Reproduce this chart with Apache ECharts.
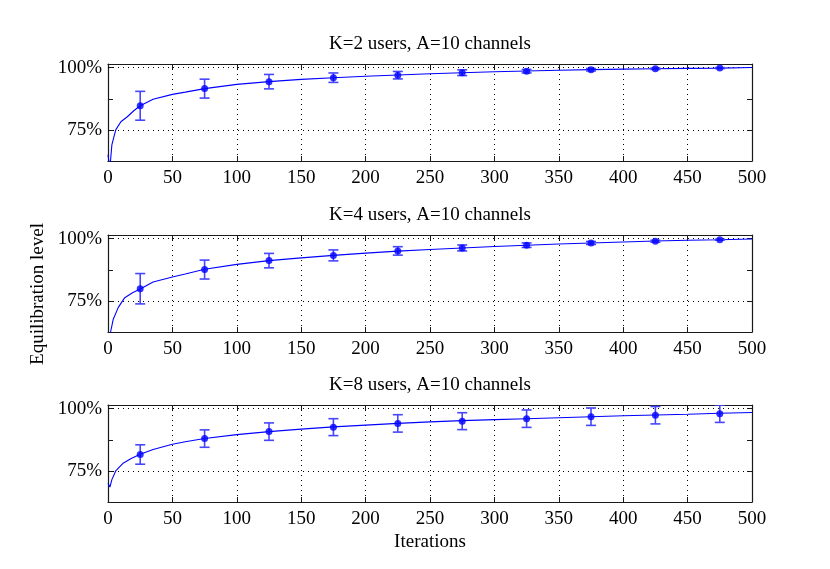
<!DOCTYPE html>
<html>
<head>
<meta charset="utf-8">
<script src="https://cdn.jsdelivr.net/npm/echarts@6/dist/echarts.min.js"></script>
<style>
html,body{margin:0;padding:0;background:#fff;}
#chart{width:830px;height:569px;}
</style>
</head>
<body>
<div id="chart"></div>
<script>
// ---------------- data ----------------
const panelTitles = ['K=2 users, A=10 channels', 'K=4 users, A=10 channels', 'K=8 users, A=10 channels'];
const xTickLabels = ['0','50','100','150','200','250','300','350','400','450','500'];
const yTickLabels = {75: '75%', 100: '100%'};

// continuous curves (iteration, level %)
const curveX_K2 = [0,1,2,3,6,10,15,20,25,35,50,60,75,100,125,150,175,200,225,250,275,300,325,350,375,400,425,450,475,500];
const curveY_K2 = [65,61,62.8,69,75,78.3,80.3,82.7,84.7,87.3,89.3,90.2,91.6,93.3,94.4,95.3,96.0,96.6,97.1,97.6,98.0,98.4,98.7,99.0,99.25,99.45,99.6,99.75,99.85,100.1];
const curveX_K4 = [0,2,4,8,13,19,25,35,50,60,75,100,125,150,175,200,225,250,275,300,325,350,375,400,425,450,475,500];
const curveY_K4 = [58,62.5,67.5,72.4,76.3,78.3,79.8,82.6,84.6,85.8,87.7,89.7,91.2,92.3,93.3,94.2,95.0,95.7,96.3,96.9,97.4,97.9,98.3,98.7,99.1,99.4,99.6,99.9];
const curveX_K8 = [0,1.5,3,6,12,18,25,35,50,60,75,100,125,150,175,200,225,250,275,300,325,350,375,400,425,450,475,500];
const curveY_K8 = [70,68.5,71.5,75,78.2,80,81.7,83.6,85.7,86.7,88,89.6,90.8,91.8,92.7,93.4,94.1,94.7,95.2,95.6,96.0,96.4,96.8,97.2,97.5,97.8,98.2,98.5];

// sampled means with error bars
const sampleX = [25,75,125,175,225,275,325,375,425,475];
const meanK2 = [84.7,91.6,94.4,96.0,97.0,98.0,98.6,99.2,99.6,99.85];
const errK2  = [5.8,3.8,2.9,1.9,1.5,1.15,0.7,0.5,0.3,0.2];
const meanK4 = [79.9,87.6,91.2,93.3,95.1,96.3,97.4,98.3,99.0,99.6];
const errK4  = [6.1,3.8,2.9,2.2,1.7,1.2,0.9,0.6,0.4,0.2];
const meanK8 = [81.6,88.0,90.8,92.6,94.1,95.0,96.0,96.8,97.4,98.0];
const errK8  = [3.9,3.5,3.5,3.4,3.5,3.4,3.5,3.5,3.5,3.5];

// ---------------- layout/style ----------------
const FONT = 'Liberation Serif';
const BLUE = '#0000ff';
const ERRBLUE = '#4646ff';
const FRAME = '#1a1a1a';
const gridTops = [64, 235, 405];
const gridH = 97;

const curves = [[curveX_K2, curveY_K2],[curveX_K4, curveY_K4],[curveX_K8, curveY_K8]];
const means = [meanK2, meanK4, meanK8];
const errs = [errK2, errK4, errK8];

const chart = echarts.init(document.getElementById('chart'), null, {renderer: 'canvas'});

const grids = [], xAxes = [], yAxes = [], series = [], titles = [];

for (let i = 0; i < 3; i++) {
  grids.push({left: 108, right: 78, top: gridTops[i], height: gridH, containLabel: false});
  titles.push({
    text: panelTitles[i], left: 430, top: gridTops[i] - 29, textAlign: 'center', padding: 0,
    textStyle: {fontFamily: FONT, fontSize: 19, fontWeight: 'normal', color: '#000'}
  });
  // bottom x
  xAxes.push({
    type: 'value', gridIndex: i, min: 0, max: 500, interval: 50, position: 'bottom',
    axisLine: {show: true, onZero: false, lineStyle: {color: FRAME, width: 1.2}},
    axisTick: {show: true, inside: true, length: 5, lineStyle: {color: FRAME}},
    axisLabel: {show: true, margin: 8, fontFamily: FONT, fontSize: 19, color: '#000',
      formatter: v => xTickLabels[Math.round(v / 50)] || ''},
    splitLine: {show: true, lineStyle: {color: '#000', type: [1, 4], width: 1}},
    name: i === 2 ? 'Iterations' : '', nameLocation: 'middle', nameGap: 31,
    nameTextStyle: {fontFamily: FONT, fontSize: 19, color: '#000'}
  });
  // top x (frame)
  xAxes.push({
    type: 'value', gridIndex: i, min: 0, max: 500, interval: 50, position: 'top',
    axisLine: {show: true, onZero: false, lineStyle: {color: FRAME, width: 1.2}},
    axisTick: {show: true, inside: true, length: 5, lineStyle: {color: FRAME}},
    axisLabel: {show: false}, splitLine: {show: false}
  });
  // left y
  yAxes.push({
    type: 'value', gridIndex: i, min: 62.5, max: 101.5, interval: 12.5, position: 'left',
    axisLine: {show: true, onZero: false, lineStyle: {color: FRAME, width: 1.2}},
    axisTick: {show: true, inside: true, length: 5, lineStyle: {color: FRAME},
      customValues: [75, 87.5, 100]},
    axisLabel: {show: true, margin: 6, fontFamily: FONT, fontSize: 19, color: '#000',
      customValues: [75, 100], formatter: v => yTickLabels[Math.round(v)] || ''},
    splitLine: {show: false}
  });
  // right y (frame)
  yAxes.push({
    type: 'value', gridIndex: i, min: 62.5, max: 101.5, interval: 12.5, position: 'right',
    axisLine: {show: true, onZero: false, lineStyle: {color: FRAME, width: 1.2}},
    axisTick: {show: true, inside: true, length: 5, lineStyle: {color: FRAME},
      customValues: [75, 87.5, 100]},
    axisLabel: {show: false}, splitLine: {show: false}
  });

  const xi = i * 2, yi = i * 2;
  const cx = curves[i][0], cy = curves[i][1];
  series.push({
    type: 'line', xAxisIndex: xi, yAxisIndex: yi, showSymbol: false, symbol: 'none',
    data: cx.map((x, k) => [x, cy[k]]), clip: true, z: 3,
    lineStyle: {color: BLUE, width: 1.1}, silent: true,
    markLine: {
      silent: true, symbol: 'none', label: {show: false},
      lineStyle: {color: '#000', type: [1, 4], width: 1},
      data: [{yAxis: 75}, {yAxis: 100}], z: 1
    }
  });
  const m = means[i], e = errs[i];
  series.push({
    type: 'custom', xAxisIndex: xi, yAxisIndex: yi, clip: true, z: 4, silent: true,
    data: sampleX.map((x, k) => [x, m[k] - e[k], m[k] + e[k]]),
    renderItem: function (params, api) {
      const lo = api.coord([api.value(0), api.value(1)]);
      const hi = api.coord([api.value(0), api.value(2)]);
      const w = 5;
      const st = {stroke: ERRBLUE, lineWidth: 1.6};
      return {type: 'group', children: [
        {type: 'line', shape: {x1: lo[0], y1: lo[1], x2: hi[0], y2: hi[1]}, style: st},
        {type: 'line', shape: {x1: lo[0] - w, y1: lo[1], x2: lo[0] + w, y2: lo[1]}, style: st},
        {type: 'line', shape: {x1: hi[0] - w, y1: hi[1], x2: hi[0] + w, y2: hi[1]}, style: st}
      ]};
    }
  });
  series.push({
    type: 'scatter', xAxisIndex: xi, yAxisIndex: yi, symbol: 'circle', symbolSize: 7, z: 5,
    silent: true, itemStyle: {color: BLUE},
    data: sampleX.map((x, k) => [x, m[k]])
  });
}

chart.setOption({
  animation: false,
  backgroundColor: '#fff',
  title: titles,
  grid: grids,
  xAxis: xAxes,
  yAxis: yAxes,
  series: series,
  graphic: [{
    type: 'text', x: 38, y: 294, rotation: Math.PI / 2,
    style: {text: 'Equilibration level', font: '19px "Liberation Serif"', fill: '#000',
      textAlign: 'center', textVerticalAlign: 'middle', align: 'center', verticalAlign: 'middle'}
  }]
});
</script>
</body>
</html>
